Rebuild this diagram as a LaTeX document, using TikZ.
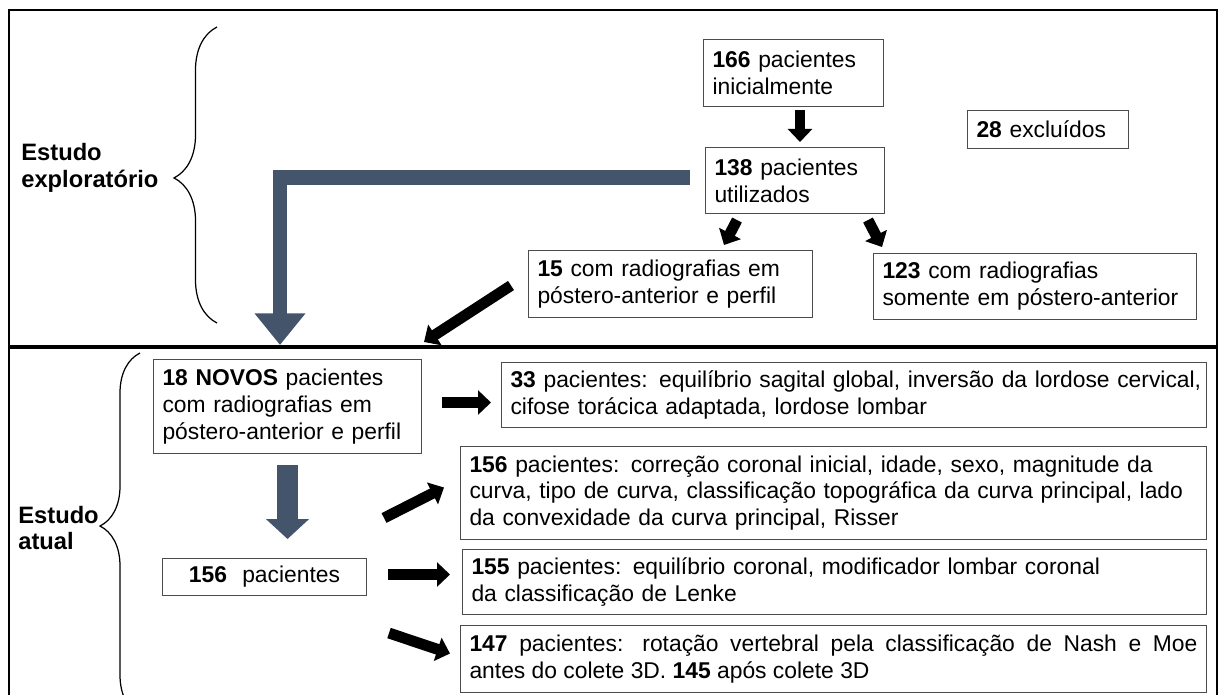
\documentclass[tikz,border=0pt]{standalone}
\usepackage{fontspec}
\setmainfont{Liberation Sans}
\usetikzlibrary{arrows.meta,positioning,calc,decorations.pathreplacing}
\definecolor{slate-arrow}{HTML}{44546A}

\begin{document}
\hyphenpenalty=10000
\begin{tikzpicture}[x=0.02cm,y=-0.02cm,
  box/.style={draw=black!70,line width=0.6pt,anchor=north west,align=left,inner xsep=0.18cm,inner ysep=0pt,font=\fontsize{13pt}{15.3pt}\selectfont},
  blk/.style={line width=6.2pt,-{Triangle[width=13.6pt,length=7.4pt]}},
  gry/.style={slate-arrow,line width=8.5pt,-{Triangle[width=27.8pt,length=18pt]}},
  grywide/.style={slate-arrow,line width=11.9pt,-{Triangle[width=23.8pt,length=11.3pt]}},
  lbl/.style={font=\fontsize{13.5pt}{15pt}\selectfont\bfseries,align=left,anchor=west,inner sep=0pt},
  brc/.style 2 args={decorate,decoration={brace,amplitude=#1,aspect=#2},line width=0.7pt}]
  \useasboundingbox (0,0) rectangle (1220,695);
  \draw[line width=1.1pt] (9,10) rectangle (1217,347);
  \draw[line width=1.1pt] (9,347) -- (9,700) (1217,347) -- (1217,700);
  \draw[line width=1.8pt] (9,347) -- (1217,347);

  \node[lbl] (lexp) at (21,168) {Estudo\\exploratório};
  \node[lbl] (latu) at (18,528) {Estudo\\atual};
  \draw[brc={0.86cm}{0.49}] (217,323) -- (217,27);
  \draw[brc={0.8cm}{0.522}] (140,715) -- (140,353);

  \node[box,text width=3.24cm,minimum height=1.34cm] (b166) at (703,39) {\textbf{166} pacientes\\inicialmente};
  \node[box,text width=2.86cm,minimum height=0.76cm] (b28) at (967,110) {\textbf{28} excluídos};
  \node[box,text width=3.22cm,minimum height=1.32cm] (b138) at (705,147) {\textbf{138} pacientes\\utilizados};
  \node[box,text width=5.32cm,minimum height=1.34cm] (b15) at (528,250) {\textbf{15} com radiografias em\\póstero-anterior e perfil};
  \node[box,text width=6.1cm,minimum height=1.32cm] (b123) at (873,253) {\textbf{123} com radiografias\\somente em póstero-anterior};
  \node[box,text width=5.0cm,minimum height=1.88cm] (b18) at (153,359) {\textbf{18 NOVOS} pacientes\\com radiografias em\\póstero-anterior e perfil};
  \node[box,text width=13.74cm,minimum height=1.3cm] (b33) at (501,362) {\mbox{\textbf{33} pacientes: equilíbrio sagital global, inversão da lordose cervical,}\\cifose torácica adaptada, lordose lombar};
  \node[box,text width=14.56cm,minimum height=1.86cm] (b156a) at (460,446) {\textbf{156} pacientes: correção coronal inicial, idade, sexo, magnitude da\\curva, tipo de curva, classificação topográfica da curva principal, lado\\da convexidade da curva principal, Risser};
  \node[box,text width=14.52cm,minimum height=1.3cm] (b155) at (462,549) {\textbf{155} pacientes: equilíbrio coronal, modificador lombar coronal\\da classificação de Lenke};
  \node[box,text width=14.56cm,minimum height=1.34cm,align=justify] (b147) at (460,625) {\textbf{147} pacientes: rotação vertebral pela classificação de Nash e Moe\linebreak antes do colete 3D. \textbf{145} após colete 3D};
  \node[box,text width=3.72cm,minimum height=0.74cm,align=center] (b156b) at (162,558) {\textbf{156}\ \ pacientes};

  \draw[blk] ($(b166.south west)+(97,3)$) -- ($(b138.north west)+(95,-5)$);
  \draw[blk] ($(b138.south west)+(32,6)$) -- ($(b15.north east)+(-89,-5)$);
  \draw[blk] ($(b138.south east)+(-17,6)$) -- ($(b123.north west)+(9,-6)$);
  \draw[blk] ($(b15.west)+(-17,1.5)$) -- ($(b18.north east)+(2,-17)$);
  \draw[gry] ($(b138.west)+(-15,-3)$) -| ($(b18.north)+(-7.5,-14)$);
  \draw[grywide] ($(b18.south)+(0,11)$) -- ($(b156b.north)+(23,-19)$);
  \draw[blk] ($(b18.east)+(20,-4)$) -- ($(b33.west)+(-10,7.5)$);
  \draw[blk] ($(b156b.north east)+(17,-40)$) -- ($(b156a.west)+(-16,-5.5)$);
  \draw[blk] ($(b156b.east)+(21,-2.5)$) -- ($(b155.west)+(-12,-7.5)$);
  \draw[blk] ($(b156b.south east)+(22,37)$) -- ($(b147.west)+(-10,-5.5)$);
\end{tikzpicture}
\end{document}
